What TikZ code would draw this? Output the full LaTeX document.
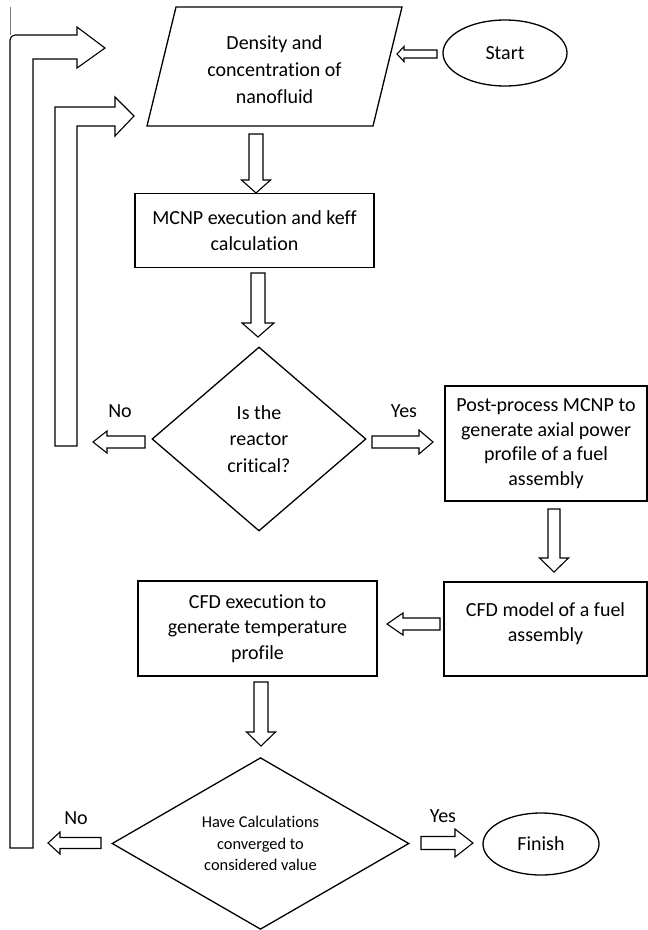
\documentclass[tikz,border=0pt]{standalone}
\usepackage{fontspec}
\setmainfont{Carlito}[Ligatures={NoCommon}]
\usetikzlibrary{shapes.geometric,calc}
\newcommand\mainfs{\fontsize{20}{25.5}\selectfont}
\newcommand\smallfs{\fontsize{16.4}{21.5}\selectfont}
% block arrow: from, to, half shaft, half head, head length
\newcommand\blockarr[5]{%
  \path ($(#2)!#5!(#1)$) coordinate (hb);
  \draw[blk] ($(#1)!#3!90:(#2)$) -- ($(hb)!#3!90:(#2)$) -- ($(hb)!#4!90:(#2)$)
    -- (#2) -- ($(hb)!#4!-90:(#2)$) -- ($(hb)!#3!-90:(#2)$)
    -- ($(#1)!#3!-90:(#2)$) -- cycle;}
\tikzset{
  proc/.style={draw, line width=1.3pt, align=center, font=\mainfs, inner sep=0pt},
  dec/.style={diamond, draw, line width=1.3pt, align=center, inner sep=0pt},
  term/.style={ellipse, draw, line width=1.3pt, font=\mainfs, inner sep=0pt},
  lbl/.style={font=\mainfs, inner sep=0pt},
  blk/.style={draw, line width=1.1pt, fill=white, line join=miter},
}
\begin{document}
\begin{tikzpicture}[x=1pt,y=-1pt]
\useasboundingbox[fill=white] (0,0) rectangle (648,930);

% parallelogram (input)
\coordinate (p1) at (176,7);
\coordinate (p2) at (402,7);
\coordinate (p3) at (373,126);
\coordinate (p4) at (147,126);
\draw[line width=1.3pt] (p1) -- (p2) -- (p3) -- (p4) -- cycle;
\node[font=\fontsize{20}{27}\selectfont, align=center, inner sep=0pt] (dens) at (274.5,70)
  {Density and\\concentration of\\nanofluid};

\node[term, minimum width=124pt, minimum height=66pt] (start) at (505,53) {Start};

\node[proc, minimum width=239pt, minimum height=74pt] (mcnp) at (254.5,230.5)
  {MCNP execution and keff\\calculation};

\node[dec, font=\fontsize{20}{26.5}\selectfont, minimum width=214pt, minimum height=184pt] (crit) at (259,439)
  {Is the\\reactor\\critical?};

\node[proc, font=\fontsize{20}{24.5}\selectfont, minimum width=202pt, minimum height=115pt] (post) at (546,443.5)
  {Post-process MCNP to\\generate axial power\\profile of a fuel\\assembly};

\node[proc, minimum width=203pt, minimum height=94pt] (cfdm) at (545.5,629)
  {CFD model of a fuel\\assembly\rule[-14pt]{0pt}{0pt}};

\node[proc, minimum width=239pt, minimum height=95pt] (cfde) at (257.5,628.5)
  {CFD execution to\\generate temperature\\profile};

\node[dec, font=\smallfs, minimum width=297pt, minimum height=169pt] (conv) at (260.5,843.5)
  {Have Calculations\\converged to\\considered value};

\node[term, minimum width=116pt, minimum height=62pt] (finish) at (541,844) {Finish};

% labels
\node[lbl] (no1) at (120,411) {No};
\node[lbl] (yes1) at (404,411) {Yes};
\node[lbl] (no2) at (76,818) {No};
\node[lbl] (yes2) at (443,816) {Yes};

% arrow end coordinates
\coordinate (a0s) at (437,54);   \coordinate (a0e) at (397,54);
\coordinate (a1s) at (256,134);  \coordinate (a1e) at (256,193);
\coordinate (a2s) at (258,273);  \coordinate (a2e) at (258,337);
\coordinate (a3s) at (145,442);  \coordinate (a3e) at (93,442);
\coordinate (a4s) at (372,442);  \coordinate (a4e) at (433,442);
\coordinate (a5s) at (554,509);  \coordinate (a5e) at (554,572);
\coordinate (a6s) at (440,624);  \coordinate (a6e) at (387,624);
\coordinate (a7s) at (261,682);  \coordinate (a7e) at (261,746);
\coordinate (a8s) at (101,843);  \coordinate (a8e) at (48,843);
\coordinate (a9s) at (421,843);  \coordinate (a9e) at (473,843);

\blockarr{a0s}{a0e}{4pt}{7.5pt}{7pt}
\blockarr{a1s}{a1e}{7pt}{14.5pt}{13pt}
\blockarr{a2s}{a2e}{7pt}{16pt}{14pt}
\blockarr{a3s}{a3e}{6pt}{11pt}{14pt}
\blockarr{a4s}{a4e}{6pt}{12pt}{14pt}
\blockarr{a5s}{a5e}{6pt}{14.5pt}{14pt}
\blockarr{a6s}{a6e}{6pt}{11pt}{16pt}
\blockarr{a7s}{a7e}{7pt}{14.5pt}{14pt}
\blockarr{a8s}{a8e}{5.5pt}{11pt}{12pt}
\blockarr{a9s}{a9e}{6.5pt}{14pt}{18pt}

% feedback loops (hollow bent arrows)
\draw[gray, line width=0.6pt] (10,7) -- (10,35);
\draw[blk] (10,848) -- (10,40) [rounded corners=5pt] -- (10,35) [sharp corners] -- (77,35) -- (77,27)
  -- (105,48) -- (77,68) -- (77,59) -- (33,59) -- (33,848) -- cycle;
\draw[blk] (55,446) -- (55,107) -- (115,107) -- (115,97) -- (134,116) -- (115,136)
  -- (115,126) -- (77,126) -- (77,446) -- cycle;
\end{tikzpicture}
\end{document}
